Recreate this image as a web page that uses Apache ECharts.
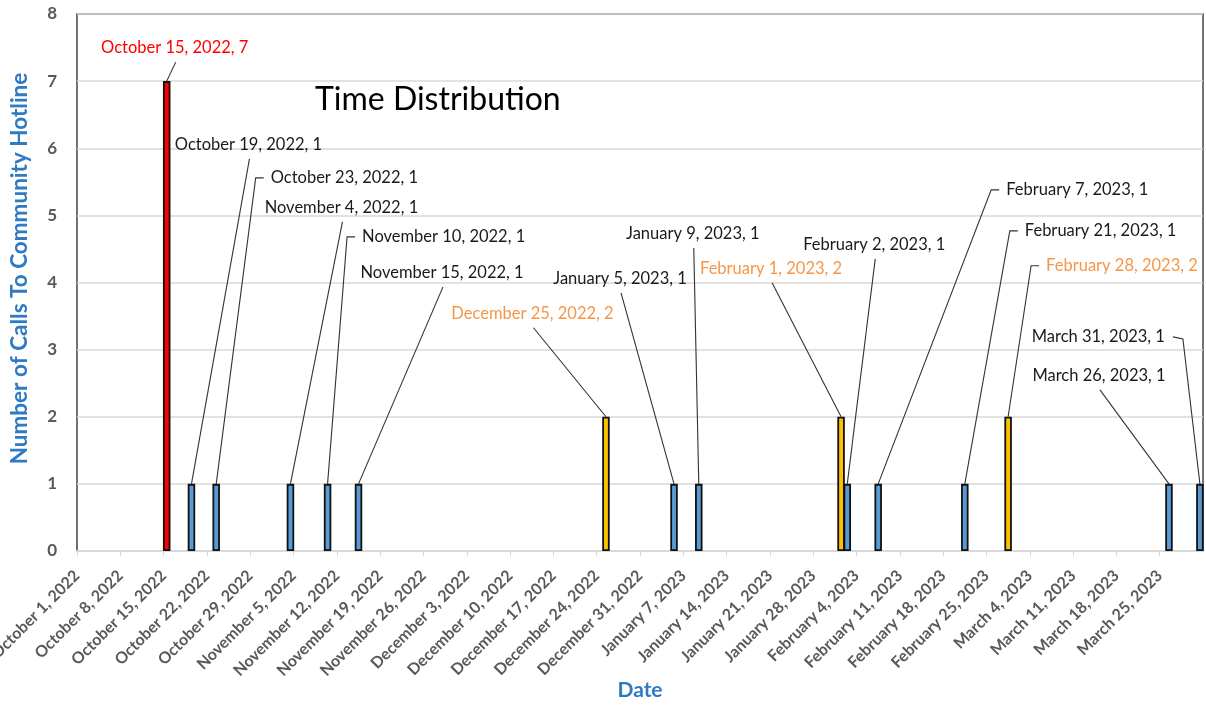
<!DOCTYPE html>
<html>
<head>
<meta charset="utf-8">
<title>Time Distribution</title>
<script src="https://cdn.jsdelivr.net/npm/echarts@6/dist/echarts.min.js"></script>
<style>
  html, body { margin: 0; padding: 0; background: #ffffff; }
  #chart { width: 1206px; height: 707px; }
</style>
</head>
<body>
<div id="chart"></div>
<script>
// Days with calls to the community hotline, and the number of calls on each day
const callDates = [
  '2022-10-15', '2022-10-19', '2022-10-23', '2022-11-04', '2022-11-10', '2022-11-15',
  '2022-12-25', '2023-01-05', '2023-01-09', '2023-02-01', '2023-02-02', '2023-02-07',
  '2023-02-21', '2023-02-28', '2023-03-26', '2023-03-31'
];
const callCounts = [7, 1, 1, 1, 1, 1, 2, 1, 1, 2, 1, 1, 1, 2, 1, 1];

// Date axis: weekly ticks from the first day to the last day
const axisStartDate = '2022-10-01';
const axisEndDate = '2023-04-01';
const tickStepDays = 7;

// Count axis ticks
const countTicks = [0, 1, 2, 3, 4, 5, 6, 7, 8];

const monthNames = ['January', 'February', 'March', 'April', 'May', 'June', 'July',
  'August', 'September', 'October', 'November', 'December'];

const DAY_MS = 86400000;
function toUTC(s) {
  const p = s.split('-').map(Number);
  return Date.UTC(p[0], p[1] - 1, p[2]);
}
const startMs = toUTC(axisStartDate);
function dayIndex(s) { return Math.round((toUTC(s) - startMs) / DAY_MS); }
function longDate(ms) {
  const d = new Date(ms);
  return monthNames[d.getUTCMonth()] + ' ' + d.getUTCDate() + ', ' + d.getUTCFullYear();
}

// Fill / label colours by number of calls
const barFill = { 1: '#5B9BD5', 2: '#FFC000', 7: '#FF0000' };
const calloutColor = { 1: '#1a1a1a', 2: '#F79646', 7: '#FF0000' };

// Callout placement, in pixels relative to the top of each bar.
// 'below': leader leaves from under the text centre (dx, dy = text centre)
// 'left' : leader hooks into the left edge of the text (dx = text left edge)
// 'right': leader hooks into the right edge of the text (dx = text right edge)
const calloutLayout = {
  '2022-10-15': { side: 'below', dx: 8, dy: -33 },
  '2022-10-19': { side: 'below', dx: 57, dy: -339 },
  '2022-10-23': { side: 'left', dx: 54.5, dy: -306 },
  '2022-11-04': { side: 'below', dx: 51, dy: -276 },
  '2022-11-10': { side: 'left', dx: 34.5, dy: -247 },
  '2022-11-15': { side: 'below', dx: 83.5, dy: -211 },
  '2022-12-25': { side: 'below', dx: -73.5, dy: -103 },
  '2023-01-05': { side: 'below', dx: -54, dy: -205 },
  '2023-01-09': { side: 'below', dx: -6, dy: -250 },
  '2023-02-01': { side: 'below', dx: -70, dy: -148 },
  '2023-02-02': { side: 'below', dx: 27, dy: -239 },
  '2023-02-07': { side: 'left', dx: 128, dy: -294 },
  '2023-02-21': { side: 'left', dx: 60, dy: -253 },
  '2023-02-28': { side: 'left', dx: 38, dy: -151 },
  '2023-03-26': { side: 'below', dx: -70, dy: -108 },
  '2023-03-31': { side: 'right', dx: -35, dy: -147 }
};

// Each bar sits in the middle of its day
const barPoints = callDates.map((d, i) => [dayIndex(d) + 0.5, callCounts[i]]);
const axisMax = dayIndex(axisEndDate);

const FONT = 'Lato, "Open Sans", sans-serif';
const AXIS_GREY = '#595959';
const NAME_BLUE = '#2E7BC4';

const chart = echarts.init(document.getElementById('chart'), null, { renderer: 'canvas' });

chart.setOption({
  animation: false,
  backgroundColor: '#ffffff',
  title: {
    text: 'Time Distribution',
    left: 315,
    top: 84,
    padding: 0,
    textStyle: { fontFamily: FONT, fontSize: 32, fontWeight: 'normal', color: '#000000' }
  },
  grid: {
    left: 77, right: 3, top: 14, bottom: 156,
    containLabel: false,
    outerBoundsMode: 'none',
    show: true,
    borderColor: '#444444',
    borderWidth: 1.5,
    backgroundColor: 'transparent'
  },
  xAxis: {
    type: 'value',
    min: 0,
    max: axisMax,
    interval: tickStepDays,
    name: 'Date',
    nameLocation: 'middle',
    nameGap: 129,
    nameMoveOverlap: false,
    nameTextStyle: { fontFamily: FONT, fontSize: 21, fontWeight: 'bold', color: NAME_BLUE },
    axisLine: { show: true, lineStyle: { color: '#d9d9d9', width: 2 } },
    axisTick: { show: true, length: 5, lineStyle: { color: '#d9d9d9', width: 1 } },
    splitLine: { show: false },
    axisLabel: {
      rotate: 45,
      margin: 22,
      fontFamily: FONT,
      fontSize: 16,
      fontWeight: 'bold',
      color: AXIS_GREY,
      showMaxLabel: false,
      formatter: v => (v >= axisMax ? '' : longDate(startMs + v * DAY_MS))
    }
  },
  yAxis: {
    type: 'value',
    min: countTicks[0],
    max: countTicks[countTicks.length - 1],
    interval: countTicks[1] - countTicks[0],
    name: 'Number of Calls To Community Hotline',
    nameLocation: 'middle',
    nameGap: 46,
    nameRotate: 90,
    nameMoveOverlap: false,
    nameTextStyle: {
      fontFamily: FONT, fontSize: 22.5, fontWeight: 'bold', color: NAME_BLUE,
      padding: [0, 0, 0, 28]
    },
    axisLine: { show: false },
    axisTick: { show: false },
    splitLine: { show: true, lineStyle: { color: '#d9d9d9', width: 1.5 } },
    axisLabel: {
      margin: 20,
      fontFamily: FONT,
      fontSize: 17,
      fontWeight: 'bold',
      color: AXIS_GREY
    }
  },
  series: [
    {
      name: 'Calls',
      type: 'bar',
      barWidth: 7.5,
      data: barPoints,
      itemStyle: {
        borderColor: '#111111',
        borderWidth: 1.8,
        color: p => barFill[p.value[1]]
      },
      z: 2
    },
    {
      name: 'Callouts',
      type: 'custom',
      data: barPoints,
      z: 5,
      renderItem: function (params, api) {
        const i = params.dataIndex;
        const count = api.value(1);
        const top = api.coord([api.value(0), count]);
        const place = calloutLayout[callDates[i]];
        const cy = top[1] + place.dy;
        const tx = top[0] + place.dx;
        let align, points;
        if (place.side === 'below') {
          align = 'center';
          points = [[tx + 1, cy + 14], top];
        } else if (place.side === 'left') {
          align = 'left';
          points = [[tx - 7, cy], [tx - 15, cy], top];
        } else {
          align = 'right';
          points = [[tx + 8, cy], [tx + 18, cy + 2], top];
        }
        return {
          type: 'group',
          children: [
            {
              type: 'polyline',
              shape: { points: points },
              style: { stroke: '#333333', lineWidth: 1.1, fill: null }
            },
            {
              type: 'text',
              style: {
                text: longDate(toUTC(callDates[i])) + ', ' + count,
                x: tx,
                y: cy,
                align: align,
                verticalAlign: 'middle',
                fontFamily: FONT,
                fontSize: 16.5,
                fill: calloutColor[count]
              }
            }
          ]
        };
      }
    }
  ]
});
</script>
</body>
</html>
